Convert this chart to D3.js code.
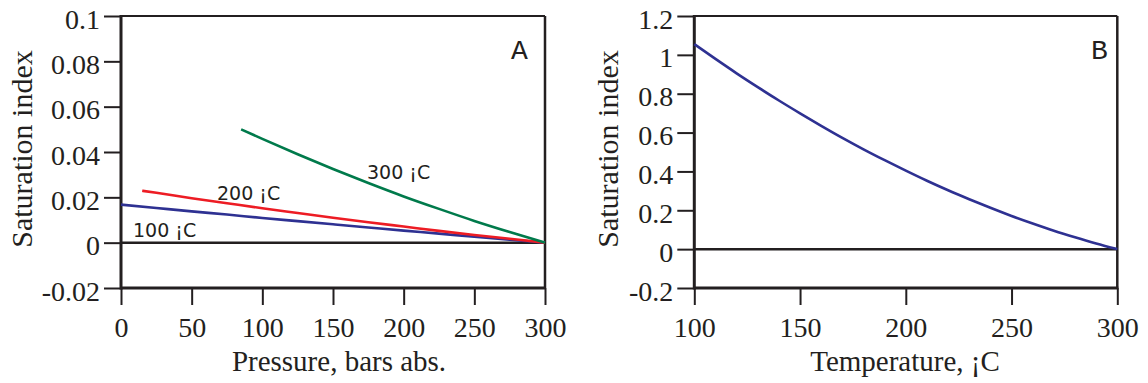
<!DOCTYPE html>
<html><head><meta charset="utf-8">
<script src="https://cdn.jsdelivr.net/npm/d3@7/dist/d3.min.js"></script>
<style>
html,body{margin:0;padding:0;background:#fff;}
svg{display:block;}
</style>
</head><body>
<svg id="chart" width="1148" height="383"></svg>
<script>
// ---------- Data ----------
// Panel A: saturation index vs pressure (bars abs.)
const pressure100 = [0, 25, 50, 75, 100, 125, 150, 175, 200, 225, 250, 275, 300];
const si100 = [0.0168, 0.0153, 0.0138, 0.0124, 0.0109, 0.0095, 0.0081, 0.0067, 0.0053, 0.0040, 0.0026, 0.0013, 0];
const pressure200 = [15, 25, 50, 75, 100, 125, 150, 175, 200, 225, 250, 275, 300];
const si200 = [0.0229, 0.0220, 0.0196, 0.0174, 0.0152, 0.0131, 0.0110, 0.0090, 0.0071, 0.0052, 0.0034, 0.0017, 0];
const pressure300 = [85, 100, 125, 150, 175, 200, 225, 250, 275, 300];
const si300 = [0.0500, 0.0458, 0.0390, 0.0325, 0.0263, 0.0204, 0.0149, 0.0096, 0.0047, 0];
const seriesLabelsA = ["100 ¡C", "200 ¡C", "300 ¡C"];

// Panel B: saturation index vs temperature
const temperature = [100, 110, 120, 130, 140, 150, 160, 170, 180, 190, 200, 210, 220, 230, 240, 250, 260, 270, 280, 290, 300];
const siTemp = [1.055, 0.979, 0.905, 0.834, 0.765, 0.699, 0.635, 0.573, 0.514, 0.458, 0.404, 0.352, 0.303, 0.257, 0.213, 0.171, 0.132, 0.095, 0.061, 0.029, 0];

// Tick values / labels
const xTicksA = [0, 50, 100, 150, 200, 250, 300];
const yTicksA = [-0.02, 0, 0.02, 0.04, 0.06, 0.08, 0.1];
const yTickLabelsA = ["-0.02", "0", "0.02", "0.04", "0.06", "0.08", "0.1"];
const xTicksB = [100, 150, 200, 250, 300];
const yTicksB = [-0.2, 0, 0.2, 0.4, 0.6, 0.8, 1, 1.2];
const yTickLabelsB = ["-0.2", "0", "0.2", "0.4", "0.6", "0.8", "1", "1.2"];

// ---------- Drawing ----------
const svg = d3.select("#chart");
svg.append("rect").attr("width", 1148).attr("height", 383).attr("fill", "#fff");
const ink = "#231f20";
const serif = "'Liberation Serif', 'Times New Roman', Times, serif";
const sans = "'DejaVu Sans', Verdana, sans-serif";
const mono = "'Liberation Mono', 'Courier New', monospace";

function panel(cfg) {
  const x = d3.scaleLinear().domain(cfg.xDomain).range([cfg.left, cfg.right]);
  const y = d3.scaleLinear().domain(cfg.yDomain).range([cfg.bottom, cfg.top]);
  const g = svg.append("g");

  // y axis
  const yAxis = d3.axisLeft(y).tickValues(cfg.yTicks)
    .tickFormat((d, i) => cfg.yTickLabels[i]).tickSize(17).tickSizeOuter(0);
  const ya = g.append("g").attr("transform", `translate(${cfg.left},0)`).call(yAxis);
  ya.select(".domain").remove();
  ya.selectAll(".tick line").attr("stroke", ink).attr("stroke-width", 2);
  ya.selectAll(".tick text").attr("x", -21).attr("dy", null).attr("y", 12)
    .attr("fill", ink).style("font-family", serif).style("font-size", "28px");

  // x axis
  const xAxis = d3.axisBottom(x).tickValues(cfg.xTicks).tickSize(17).tickSizeOuter(0);
  const xa = g.append("g").attr("transform", `translate(0,${cfg.bottom})`).call(xAxis);
  xa.select(".domain").remove();
  xa.selectAll(".tick line").attr("stroke", ink).attr("stroke-width", 2);
  xa.selectAll(".tick text").attr("dy", null).attr("y", 49)
    .attr("fill", ink).style("font-family", serif).style("font-size", "28px");

  // frame
  g.append("line").attr("x1", cfg.left).attr("x2", cfg.right).attr("y1", cfg.top).attr("y2", cfg.top)
    .attr("stroke", ink).attr("stroke-width", 2);
  g.append("line").attr("x1", cfg.right).attr("x2", cfg.right).attr("y1", cfg.top).attr("y2", cfg.bottom)
    .attr("stroke", ink).attr("stroke-width", 2.5);
  g.append("line").attr("x1", cfg.left).attr("x2", cfg.right + 1).attr("y1", cfg.bottom).attr("y2", cfg.bottom)
    .attr("stroke", ink).attr("stroke-width", 3);
  g.append("line").attr("x1", cfg.left).attr("x2", cfg.left).attr("y1", cfg.top - 1).attr("y2", cfg.bottom + 1.5)
    .attr("stroke", ink).attr("stroke-width", 3);
  // zero line
  g.append("line").attr("x1", cfg.left).attr("x2", cfg.right).attr("y1", y(0)).attr("y2", y(0))
    .attr("stroke", ink).attr("stroke-width", 2.5);

  // series
  const line = d3.line().x(d => x(d[0])).y(d => y(d[1])).curve(d3.curveMonotoneX);
  cfg.series.forEach(s => {
    g.append("path").datum(d3.zip(s.xs, s.ys)).attr("d", line)
      .attr("fill", "none").attr("stroke", s.color).attr("stroke-width", 2.6)
      .attr("stroke-linecap", "butt");
  });

  // axis titles
  g.append("text").attr("x", cfg.xTitleX).attr("y", 371).attr("text-anchor", "middle")
    .attr("fill", ink).style("font-family", serif).style("font-size", "29px").text(cfg.xTitle);
  g.append("text").attr("transform", `translate(${cfg.yTitleX},${(cfg.top + cfg.bottom) / 2 - 3}) rotate(-90)`)
    .attr("text-anchor", "middle").attr("fill", ink)
    .style("font-family", serif).style("font-size", "30px").text("Saturation index");

  // panel letter
  g.append("text").attr("x", cfg.letterX).attr("y", 59).attr("fill", ink)
    .style("font-family", mono).style("font-size", "28px").text(cfg.letter);
  return {x, y, g};
}

const A = panel({
  left: 121, right: 545, top: 16, bottom: 288,
  xDomain: [0, 300], yDomain: [-0.02, 0.1],
  xTicks: xTicksA, yTicks: yTicksA, yTickLabels: yTickLabelsA,
  xTitle: "Pressure, bars abs.", xTitleX: 339, yTitleX: 32,
  letter: "A", letterX: 511,
  series: [
    {xs: pressure100, ys: si100, color: "#2e3192"},
    {xs: pressure200, ys: si200, color: "#ed1c24"},
    {xs: pressure300, ys: si300, color: "#007a4b"}
  ]
});

// series labels in panel A
const labelPos = [[133, 237], [217, 200], [367, 179]];
seriesLabelsA.forEach((t, i) => {
  A.g.append("text").attr("x", labelPos[i][0]).attr("y", labelPos[i][1]).attr("fill", ink)
    .style("font-family", sans).style("font-size", "19px").text(t);
});

const B = panel({
  left: 694.3, right: 1117.3, top: 16, bottom: 288,
  xDomain: [100, 300], yDomain: [-0.2, 1.2],
  xTicks: xTicksB, yTicks: yTicksB, yTickLabels: yTickLabelsB,
  xTitle: "Temperature, ¡C", xTitleX: 905, yTitleX: 618,
  letter: "B", letterX: 1091,
  series: [
    {xs: temperature, ys: siTemp, color: "#2e3192"}
  ]
});
</script>
</body></html>
